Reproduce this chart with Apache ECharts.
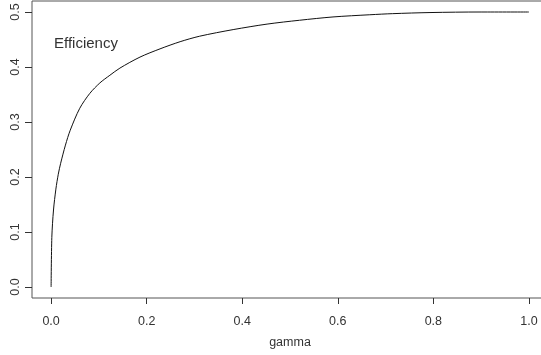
<!DOCTYPE html>
<html>
<head>
<meta charset="utf-8">
<script src="https://cdn.jsdelivr.net/npm/echarts@6/dist/echarts.min.js"></script>
<style>
  html, body { margin: 0; padding: 0; background: #fff; overflow: hidden; }
  #chart { width: 541px; height: 355px; }
</style>
</head>
<body>
<div id="chart"></div>
<script>
// Efficiency as a function of gamma
var gamma = [0, 0.0015, 0.005, 0.01, 0.015, 0.02, 0.03, 0.04, 0.06, 0.081, 0.102, 0.123, 0.144,
             0.186, 0.228, 0.27, 0.311, 0.381, 0.452, 0.52, 0.59, 0.667, 0.715, 0.793, 0.9, 1.0];
var efficiency = [0, 0.09, 0.14, 0.178, 0.205, 0.225, 0.258, 0.285, 0.325, 0.352, 0.371, 0.385, 0.398,
                  0.418, 0.433, 0.446, 0.456, 0.468, 0.478, 0.485, 0.491, 0.495, 0.497, 0.499, 0.5, 0.5];
var xTicks = [0, 0.2, 0.4, 0.6, 0.8, 1.0];
var yTicks = [0, 0.1, 0.2, 0.3, 0.4, 0.5];

var points = gamma.map(function (g, i) { return [g, efficiency[i]]; });

var font = 'Liberation Sans, Arial, sans-serif';
var chart = echarts.init(document.getElementById('chart'));
chart.setOption({
  animation: false,
  backgroundColor: '#fff',
  grid: {
    left: 32, top: 1, bottom: 57, width: 516,
    outerBoundsMode: 'none', containLabel: false,
    show: true, borderColor: '#555', borderWidth: 1, backgroundColor: 'transparent'
  },
  xAxis: {
    type: 'value', min: -0.04, max: 1.04,
    name: 'gamma', nameLocation: 'middle', nameGap: 38,
    nameTextStyle: { fontFamily: font, fontSize: 12.5, color: '#333' },
    axisLine: { show: false, onZero: false },
    axisTick: { show: true, inside: false, length: 6, customValues: xTicks,
                lineStyle: { color: '#333', width: 1 } },
    axisLabel: { customValues: xTicks, margin: 17, fontFamily: font, fontSize: 12.5, color: '#333',
                 formatter: function (v) { return v.toFixed(1); } },
    splitLine: { show: false }
  },
  yAxis: {
    type: 'value', min: -0.02, max: 0.52,
    axisLine: { show: false, onZero: false },
    axisTick: { show: true, inside: false, length: 7, customValues: yTicks,
                lineStyle: { color: '#333', width: 1 } },
    axisLabel: { customValues: yTicks, rotate: 90, margin: 10, fontFamily: font, fontSize: 12.5, color: '#333',
                 formatter: function (v) { return v.toFixed(1); } },
    splitLine: { show: false }
  },
  graphic: [{
    type: 'text', left: 54, top: 36,
    style: { text: 'Efficiency', font: '15px ' + font, fill: '#333' }
  }],
  series: [{
    type: 'line', data: points, showSymbol: false, smooth: 0.3,
    lineStyle: { color: '#111', width: 1 }
  }]
});
</script>
</body>
</html>
